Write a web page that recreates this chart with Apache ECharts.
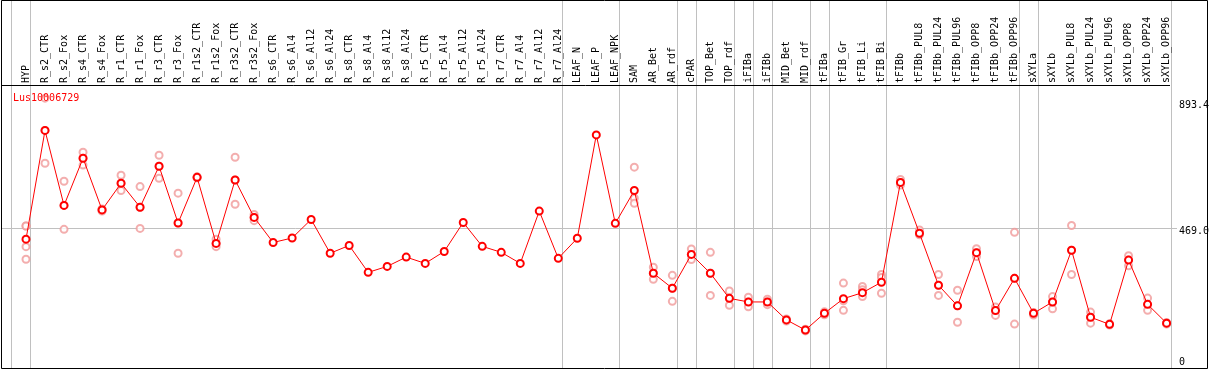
<!DOCTYPE html>
<html>
<head>
<meta charset="utf-8">
<script src="https://cdn.jsdelivr.net/npm/echarts@6/dist/echarts.min.js"></script>
<style>
html,body{margin:0;padding:0;background:#fff;}
#c{width:1209px;height:370px;}
</style>
</head>
<body>
<div id="c"></div>
<script>
const geneId = "Lus10006729";
const categories = ["HYP","R_s2_CTR","R_s2_Fox","R_s4_CTR","R_s4_Fox","R_r1_CTR","R_r1_Fox","R_r3_CTR","R_r3_Fox","R_r1s2_CTR","R_r1s2_Fox","R_r3s2_CTR","R_r3s2_Fox","R_s6_CTR","R_s6_Al4","R_s6_Al12","R_s6_Al24","R_s8_CTR","R_s8_Al4","R_s8_Al12","R_s8_Al24","R_r5_CTR","R_r5_Al4","R_r5_Al12","R_r5_Al24","R_r7_CTR","R_r7_Al4","R_r7_Al12","R_r7_Al24","LEAF_N","LEAF_P","LEAF_NPK","SAM","AR_Bet","AR_rdf","cPAR","TOP_Bet","TOP_rdf","iFIBa","iFIBb","MID_Bet","MID_rdf","tFIBa","tFIB_Gr","tFIB_Li","tFIB_Bi","tFIBb","tFIBb_PUL8","tFIBb_PUL24","tFIBb_PUL96","tFIBb_OPP8","tFIBb_OPP24","tFIBb_OPP96","sXYLa","sXYLb","sXYLb_PUL8","sXYLb_PUL24","sXYLb_PUL96","sXYLb_OPP8","sXYLb_OPP24","sXYLb_OPP96"];
const meanValues = [431,795,544,702,529,618,538,675,485,638,417,629,504,420,435,497,384,410,320,340,371,350,390,487,407,387,350,525,367,434,780,484,594,317,267,380,317,233,221,221,161,127,183,232,252,287,621,451,277,208,386,192,300,183,221,394,170,146,361,213,150];
const rep1 = [475,903,625,722,532,645,607,712,585,640,431,705,514,null,null,null,null,null,null,null,null,null,null,null,null,null,null,null,null,null,null,null,672,337,310,398,387,258,237,230,164,130,188,284,273,313,631,462,313,260,399,204,454,186,239,477,187,148,376,234,152];
const rep2 = [475,795,544,702,525,618,538,675,485,636,417,629,504,null,null,null,null,null,null,null,null,null,null,null,null,null,null,null,null,null,null,null,568,317,267,380,317,233,221,221,161,127,183,225,262,303,621,451,277,208,386,192,300,183,221,394,170,146,361,213,150];
const rep3 = [406,685,464,679,530,594,467,635,384,638,406,548,493,null,null,null,null,null,null,null,null,null,null,null,null,null,null,null,null,null,null,null,551,297,223,363,243,210,205,212,157,124,178,193,239,250,612,446,243,153,373,176,147,177,198,313,150,144,342,193,147];
const rep4 = [364,null,null,null,null,null,null,null,null,null,null,null,null,null,null,null,null,null,null,null,null,null,null,null,null,null,null,null,null,null,null,null,null,null,null,null,null,null,null,null,null,null,null,null,null,null,null,null,null,null,null,null,null,null,null,null,null,null,null,null,null];
const yTicks = [0, 469.0, 893.4];
const yMax = 893.4;
// indices of last category in each group (-1 = left boundary)
const groupEnds = [-1,0,28,31,34,35,37,38,39,41,42,45,52,53,60];

const FONT = "DejaVu Sans Mono";
const chart = echarts.init(document.getElementById('c'), null, {renderer:'canvas', width:1209, height:370});

function repSeries(arr){
  return {
    type:'scatter', data:arr, symbol:'emptyCircle', symbolSize:7, clip:false, z:3,
    itemStyle:{color:'#f09a9a', borderColor:'#f09a9a', borderWidth:1.3},
    silent:true
  };
}

chart.setOption({
  animation:false,
  title:{text:geneId, left:8, top:88, textStyle:{color:'#ff0000', fontSize:10, fontWeight:'normal', fontFamily:FONT}},
  grid:{left:16.5, right:32.9, top:101, bottom:2, containLabel:false},
  xAxis:{
    type:'category', data:categories, position:'top', offset:16, boundaryGap:true,
    axisLine:{show:false}, axisTick:{show:false}, splitLine:{show:false},
    axisLabel:{interval:0, rotate:90, margin:2, color:'#000', fontSize:10, fontFamily:FONT}
  },
  yAxis:{
    type:'value', min:0, max:yMax, position:'right',
    axisLine:{show:false}, axisTick:{show:false}, splitLine:{show:false}, axisLabel:{show:false}
  },
  series:[
    repSeries(rep1), repSeries(rep2), repSeries(rep3), repSeries(rep4),
    {
      type:'line', data:meanValues, symbol:'emptyCircle', symbolSize:7, showAllSymbol:true, z:5,
      lineStyle:{color:'#ff0000', width:1},
      itemStyle:{color:'#ff0000', borderColor:'#ff0000', borderWidth:1.5},
      silent:true
    }
  ]
});

const px0 = chart.convertToPixel({gridIndex:0}, [0, 0]);
const px1 = chart.convertToPixel({gridIndex:0}, [1, 0]);
const step = px1[0] - px0[0];
const graphics = [];
groupEnds.forEach(function(i){
  const x = Math.round(px0[0] + (i + 0.22) * step) + 0.5;
  graphics.push({type:'line', z:0, silent:true, shape:{x1:x, y1:0, x2:x, y2:369}, style:{stroke:'#c0c0c0', lineWidth:1}});
});
const y469 = Math.round(chart.convertToPixel({yAxisIndex:0}, yTicks[1])) + 0.5;
graphics.push({type:'line', z:0, silent:true, shape:{x1:2, y1:y469, x2:1177, y2:y469}, style:{stroke:'#c0c0c0', lineWidth:1}});
// header separator and frame
graphics.push({type:'line', z:10, silent:true, shape:{x1:1, y1:85.5, x2:1170, y2:85.5}, style:{stroke:'#000', lineWidth:1}});
graphics.push({type:'rect', z:10, silent:true, shape:{x:1.5, y:0.5, width:1206, height:368}, style:{fill:null, stroke:'#000', lineWidth:1}});
// y-axis labels via the axis scale
yTicks.forEach(function(v, k){
  const y = chart.convertToPixel({yAxisIndex:0}, v);
  const label = v === 0 ? '0' : v.toFixed(1);
  graphics.push({type:'text', z:10, silent:true, x:1179, y: y - 1,
    style:{text:label, fill:'#000', font:'10px "' + FONT + '"', textAlign:'left', textVerticalAlign:(k === 0 ? 'bottom' : 'top')}});
});
chart.setOption({graphic:graphics});
</script>
</body>
</html>
